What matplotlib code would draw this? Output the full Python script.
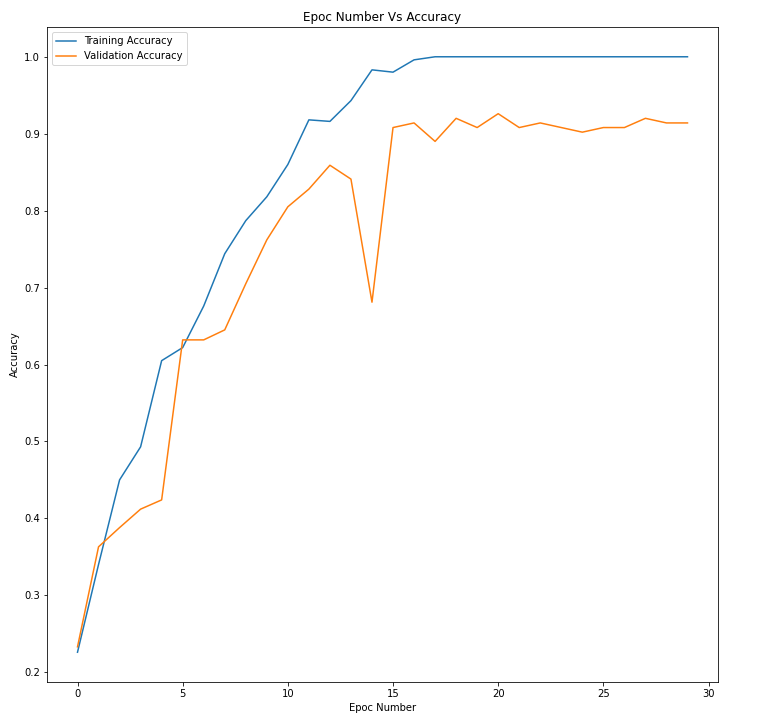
import matplotlib
matplotlib.use("Agg")
import matplotlib.pyplot as plt

epochs = list(range(30))
train_acc = [0.226, 0.340, 0.450, 0.493, 0.605, 0.622, 0.676, 0.744, 0.787, 0.818,
             0.860, 0.918, 0.916, 0.943, 0.983, 0.980, 0.996, 1.0, 1.0, 1.0,
             1.0, 1.0, 1.0, 1.0, 1.0, 1.0, 1.0, 1.0, 1.0, 1.0]
val_acc = [0.233, 0.363, 0.388, 0.412, 0.424, 0.632, 0.632, 0.645, 0.705, 0.762,
           0.805, 0.828, 0.859, 0.841, 0.681, 0.908, 0.914, 0.890, 0.920, 0.908,
           0.926, 0.908, 0.914, 0.908, 0.902, 0.908, 0.908, 0.920, 0.914, 0.914]

fig = plt.figure(figsize=(763 / 72, 721 / 72), dpi=72)
ax = fig.add_axes([47 / 763, 1 - 682 / 721, (718 - 47) / 763, (682 - 27) / 721])

ax.plot(epochs, train_acc, label='Training Accuracy')
ax.plot(epochs, val_acc, label='Validation Accuracy')

ax.set_title('Epoc Number Vs Accuracy', fontsize=12)
ax.set_xlabel('Epoc Number', fontsize=10)
ax.set_ylabel('Accuracy', fontsize=10)
ax.tick_params(labelsize=10)
ax.legend(loc='upper left', fontsize=10)

fig.savefig('out.png', dpi=72)
